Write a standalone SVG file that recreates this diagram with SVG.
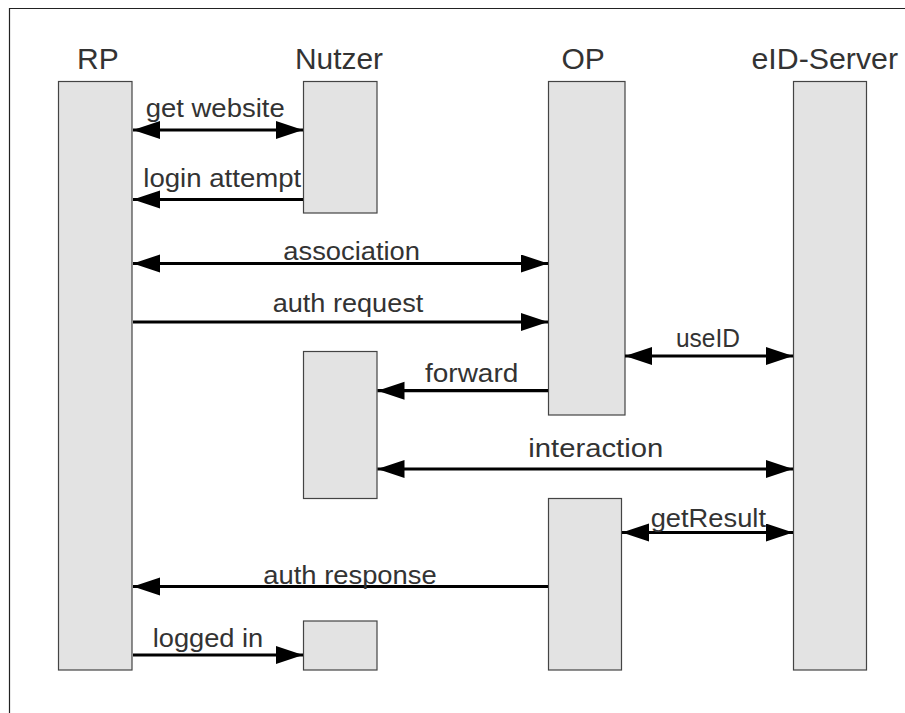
<svg xmlns="http://www.w3.org/2000/svg" width="905" height="713" viewBox="0 0 905 713">
<style>
.box{fill:#e3e3e3;stroke:#444;stroke-width:1.2}
.hd{font-family:"Liberation Sans",Arial,sans-serif;font-size:30px;fill:#333}
.lb{font-family:"Liberation Sans",Arial,sans-serif;font-size:25.5px;fill:#333}
.ln{stroke:#000;stroke-width:3.2;fill:none}
</style>
<defs>
<marker id="ah" markerUnits="userSpaceOnUse" markerWidth="28" markerHeight="20" refX="27" refY="9" orient="auto-start-reverse">
<path d="M0,0 L27,9 L0,18 z" fill="#000"/>
</marker>
</defs>
<rect width="905" height="713" fill="#fff"/>
<path d="M9.5,713 V8.5 H905" fill="none" stroke="#222" stroke-width="1.2"/>
<g id="RP">
<rect class="box" x="58.5" y="81.5" width="73.5" height="588.5"/>
<text class="hd" x="77" y="69">RP</text>
</g>
<g id="Nutzer">
<rect class="box" x="303.5" y="81.5" width="73.5" height="131.5"/>
<text class="hd" x="295" y="69" textLength="88" lengthAdjust="spacingAndGlyphs">Nutzer</text>
</g>
<g id="Nutzer2"><rect class="box" x="303.5" y="351.5" width="73.5" height="147"/></g>
<g id="Nutzer3"><rect class="box" x="303.5" y="621" width="73.5" height="49"/></g>
<g id="OP">
<rect class="box" x="548.5" y="81.5" width="76.5" height="333.5"/>
<text class="hd" x="561.5" y="69">OP</text>
</g>
<g id="OP2"><rect class="box" x="548.5" y="498.5" width="73" height="171.5"/></g>
<g id="eID-Server">
<rect class="box" x="793.5" y="81.5" width="73" height="588.5"/>
<text class="hd" x="751.5" y="69" textLength="146.5" lengthAdjust="spacingAndGlyphs">eID-Server</text>
</g>
<g id="connectors">
<line class="ln" x1="133" y1="130" x2="303" y2="130" marker-start="url(#ah)" marker-end="url(#ah)"/>
<line class="ln" x1="303" y1="199.5" x2="133" y2="199.5" marker-end="url(#ah)"/>
<line class="ln" x1="133" y1="263.5" x2="548" y2="263.5" marker-start="url(#ah)" marker-end="url(#ah)"/>
<line class="ln" x1="133" y1="322" x2="548" y2="322" marker-end="url(#ah)"/>
<line class="ln" x1="625" y1="356" x2="793" y2="356" marker-start="url(#ah)" marker-end="url(#ah)"/>
<line class="ln" x1="548" y1="390.7" x2="377.5" y2="390.7" marker-end="url(#ah)"/>
<line class="ln" x1="377.5" y1="469" x2="793" y2="469" marker-start="url(#ah)" marker-end="url(#ah)"/>
<line class="ln" x1="622" y1="532.5" x2="793" y2="532.5" marker-start="url(#ah)" marker-end="url(#ah)"/>
<line class="ln" x1="548" y1="586.5" x2="133" y2="586.5" marker-end="url(#ah)"/>
<line class="ln" x1="133" y1="655" x2="303" y2="655" marker-end="url(#ah)"/>
<text class="lb" x="145.7" y="117" textLength="139" lengthAdjust="spacingAndGlyphs">get website</text>
<text class="lb" x="143.3" y="187" textLength="158" lengthAdjust="spacingAndGlyphs">login attempt</text>
<text class="lb" x="283.3" y="260" textLength="136.7" lengthAdjust="spacingAndGlyphs">association</text>
<text class="lb" x="272.7" y="312" textLength="150.6" lengthAdjust="spacingAndGlyphs">auth request</text>
<text class="lb" x="676" y="347" textLength="64" lengthAdjust="spacingAndGlyphs">useID</text>
<text class="lb" x="425" y="382" textLength="93.3" lengthAdjust="spacingAndGlyphs">forward</text>
<text class="lb" x="528.3" y="457" textLength="135" lengthAdjust="spacingAndGlyphs">interaction</text>
<text class="lb" x="650.7" y="527" textLength="115.3" lengthAdjust="spacingAndGlyphs">getResult</text>
<text class="lb" x="263.3" y="583.5" textLength="173.4" lengthAdjust="spacingAndGlyphs">auth response</text>
<text class="lb" x="152.7" y="647" textLength="110.6" lengthAdjust="spacingAndGlyphs">logged in</text>
</g>
</svg>
